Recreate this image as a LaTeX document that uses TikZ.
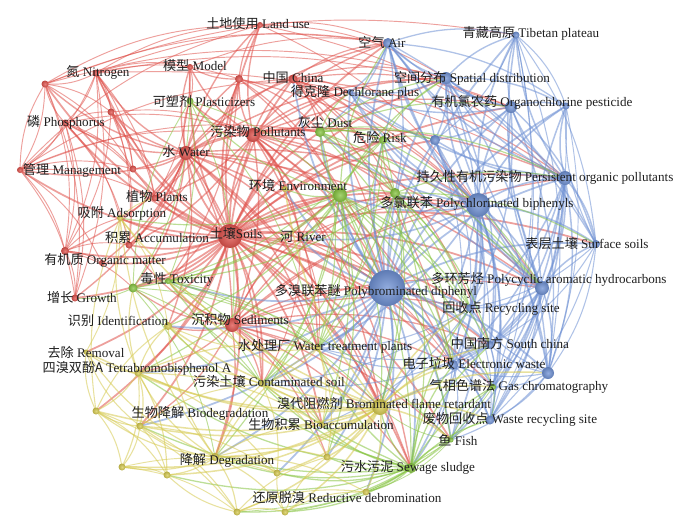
\documentclass[tikz,border=0pt]{standalone}
\usepackage{fontspec}
\setmainfont{Liberation Serif}
\newfontfamily\cjk{Noto Sans CJK SC}
\usepackage{tikz}
\usetikzlibrary{backgrounds}
\pgfdeclarelayer{edgelayer}
\pgfsetlayers{background,edgelayer,main}
\definecolor{cR}{HTML}{E0524C}
\definecolor{cG}{HTML}{86C440}
\definecolor{cB}{HTML}{6F91D4}
\definecolor{cY}{HTML}{D6CA50}
\newcommand{\zh}[1]{{\cjk #1}}
\tikzset{
  vnode/.style={circle,inner sep=0pt,draw=none},
  kwlabel/.style={inner sep=0pt,text=black!88,font=\fontsize{11.2}{13}\selectfont},
  link/.style={line width=#1,draw opacity=0.55},
}

\begin{document}
\begin{tikzpicture}[x=0.03cm,y=-0.03cm]
  \begin{pgfonlayer}{background}
    \fill[white] (0,0) rectangle (686,523);
  \end{pgfonlayer}
  \useasboundingbox (0,0) rectangle (686,523);

  % keyword circles
  \foreach \n/\x/\y/\r/\c in {
    landuse/260/25/3/cR, model/190/67/3/cR, nitro/96/73/3.5/cR, rA/45/84/3.5/cR,
    rB/111/112/3.5/cR, phos/65/123/3.5/cR, rC/239/79/4/cR, china/293/79/4.5/cR,
    poll/253/135/7/cR, water/186/153/7/cR, manage/20/170/3/cR, rD/133/169/3.5/cR,
    plants/155/198/3.5/cR, accum/129/245/3.5/cR, soil/230/236/12/cR, orgm/65/251/4/cR,
    rE/102/263/3/cR, growth/75/298/3.5/cR, sed/232/325/7/cR, river/300/238/2.5/cR,
    plast/190/101/3.5/cG, dust/320/132/5/cG, risk/383/140/4/cG, env/340/195/7/cG,
    gF/395/193/5/cG, tox1/133/288/4.5/cG, tox/168/281/3/cG, fish/451/440/2.5/cG,
    sludge/411/468/5/cG, gc/493/387/3/cG,
    air/388/43/5/cB, tibet/516/35/3.5/cB, spatial/446/78/6/cB, ocp/511/107/6/cB,
    bS/566/106/3.5/cB, dech/350/92/3/cB, risknode/435/140/5/cB, pop/565/178/7/cB,
    pcb/478/205/12/cB, surf/596/244/4/cB, pah/542/288/7/cB, pbde/387/288/18/cB,
    recyc/470/308/4/cB, south/490/345/4/cB, ewaste/453/365/5/cB, bT/548/373/6/cB,
    waste/490/420/4.5/cB,
    envy/285/189/3/cY, adsorp/120/218/3/cY, ident/168/326/4/cY, wtp/318/348/3/cY,
    removal/86/352/2.5/cY, tbbpa/138/373/3.5/cY, contam/262/384/3/cY, bfr/380/407/8/cY,
    bioacc/322/425/3/cY, biodeg/140/426/3.5/cY, deg/215/457/4/cY, yA/96/411/3.5/cY,
    yB/122/467/3.5/cY, yC/167/475/3.5/cY, yD/237/512/3.5/cY, yE/285/512/3.5/cY,
    yF/277/473/3.5/cY, yG/327/457/3.5/cY, redeb/366/492/3.5/cY}
    \node[vnode,inner color=\c!75,outer color=\c!85!black,minimum size=\r*0.06cm] (\n) at (\x,\y) {};

  % co-occurrence links
  \begin{pgfonlayer}{edgelayer}
  \foreach \hub/\col/\w/\tgts in {
    soil/cR/1.5/{water,poll,sed,china,rC,plants,accum,orgm,rE,growth,manage,rD,phos,nitro,rA,rB,model,landuse,adsorp,tox1,tox,ident,pbde,pcb,pah,env,envy,dust,river,deg,tbbpa,biodeg,contam,bfr,sludge,wtp,removal,yA,air,spatial,surf,ewaste,risk,gF,bioacc,pop,ocp,recyc,south,gc,fish,dech,risknode},
    water/cR/1.2/{poll,sed,nitro,phos,rA,rB,manage,rD,plants,orgm,growth,accum,china,rC,model,landuse,plast,env,envy,pcb,pbde,river,adsorp,tox1,ident,dust,rE,pah,spatial,air,bfr,sludge,wtp,contam},
    poll/cR/1.2/{china,rC,sed,plants,dust,air,pcb,pbde,env,envy,tox,accum,model,river,pah,risk,spatial,gF,landuse,plast,pop,ocp,ewaste,dech,bfr,sludge,wtp},
    sed/cR/1.1/{river,pbde,pcb,pah,bfr,wtp,tbbpa,deg,ident,accum,contam,bioacc,sludge,ewaste,recyc,south,tox1,env,pop,gF,tox,biodeg,yG,fish},
    nitro/cR/0.8/{rA,rB,phos,manage,orgm,growth,rD,landuse,air,model,plants,accum,rC,pop,ocp},
    phos/cR/0.8/{rA,manage,orgm,growth,rD,accum,rB,plants,adsorp,poll},
    manage/cR/0.8/{orgm,growth,rA,rD,rE,plants,dust,poll,china,landuse},
    rA/cR/0.8/{orgm,growth,rB,manage,landuse,air,spatial,rD,tibet},
    rB/cR/0.8/{rD,plants,poll,accum,orgm},
    china/cR/1.0/{air,spatial,pcb,pbde,dust,ewaste,rC,risk,ocp,gF,dech,pop,pah,south},
    rC/cR/1.0/{model,plants,accum,dust,env,tox,landuse,pcb,pbde},
    landuse/cR/0.8/{air,pcb,spatial,pop},
    model/cR/0.8/{air,plast,plants},
    orgm/cR/0.8/{growth,rE,accum,tox1,adsorp},
    river/cR/0.8/{pbde,pcb,env,gF,wtp,contam,ewaste},
    pbde/cB/1.5/{pcb,pop,pah,ocp,spatial,air,surf,bS,risknode,ewaste,recyc,south,bT,waste,gc,tibet,dust,bfr,sludge,env,gF,wtp,fish,deg,contam,bioacc,tbbpa,redeb,yG,risk,china,river,tox,dech,envy,ident,biodeg,yF},
    pcb/cB/1.4/{pop,pah,ocp,spatial,air,surf,bS,tibet,risknode,ewaste,recyc,south,bT,waste,gc,dust,gF,risk,bfr,sludge,fish,dech,env,river,wtp},
    pop/cB/1.3/{pah,ocp,spatial,air,surf,bS,tibet,risknode,bT,south,recyc,ewaste,waste,dech,gc,fish},
    pah/cB/1.3/{ocp,spatial,air,surf,bS,tibet,risknode,bT,south,recyc,ewaste,waste,gc,dech,fish,bfr},
    ocp/cB/1.2/{spatial,air,surf,bS,tibet,risknode,bT,dech,recyc},
    spatial/cB/1.2/{air,tibet,surf,risknode,bT,south,dech,recyc,bS},
    air/cB/1.1/{tibet,risknode,surf,dust,risk,gF,dech,bS,bT},
    tibet/cB/0.9/{surf,bS,bT,waste,gc,risknode},
    surf/cB/0.9/{bS,bT,south,recyc,waste},
    bS/cB/0.8/{bT,waste},
    bT/cB/1.0/{ewaste,recyc,south,waste,gc,fish},
    ewaste/cB/1.0/{recyc,south,waste,gc,fish,sludge,wtp},
    recyc/cB/0.9/{south,waste,wtp,contam,bioacc},
    south/cB/0.9/{waste,gc,wtp,contam},
    risknode/cB/0.9/{dech,recyc,south,ewaste},
    env/cG/1.0/{dust,risk,gF,tox,tox1,sludge,bfr,wtp,fish,gc,plast,contam,bioacc,deg,river,yG,envy,ewaste,south,recyc,tbbpa,ident,adsorp,spatial,air},
    sludge/cG/1.1/{bfr,fish,gc,wtp,contam,bioacc,deg,yG,redeb,yF,yE,waste,ewaste,tox,biodeg,recyc,south,tbbpa,ident,yD,yC},
    dust/cG/1.0/{risk,gF,risknode,spatial,ocp,pop,dech,pah,ewaste,recyc,wtp},
    gF/cG/1.0/{risk,pop,pah,surf,south,bfr,sludge,ewaste,recyc,wtp,contam,tox},
    risk/cG/0.9/{risknode,spatial,pah,bfr,wtp,tox,contam},
    tox1/cG/0.8/{tox,ident,growth,wtp,deg,plast,contam},
    tox/cG/0.8/{wtp,contam,bfr,bioacc,fish},
    plast/cG/0.8/{tox,env,wtp,sed,tox1},
    fish/cG/0.7/{gc,waste,bfr,yD,redeb,yE},
    gc/cG/0.7/{waste,redeb},
    bfr/cY/1.3/{tbbpa,deg,biodeg,bioacc,contam,wtp,redeb,yA,yB,yC,yD,yE,yF,yG,removal,ident,adsorp,tox,waste,gc,fish,envy,ewaste,south,recyc,bT},
    deg/cY/1.0/{tbbpa,biodeg,yA,yB,yC,yD,yE,yF,yG,redeb,removal,ident,contam,bioacc,adsorp,wtp},
    tbbpa/cY/1.0/{biodeg,yA,yB,yC,removal,ident,adsorp,contam,wtp,tox1,yF,bioacc},
    biodeg/cY/0.9/{yA,yB,yC,yD,removal,yF,contam},
    yA/cY/0.9/{yB,yC,removal,ident,adsorp,yD},
    yB/cY/0.8/{yC,yD,yF},
    yD/cY/0.9/{yE,yC,redeb,yG},
    yE/cY/0.9/{yG,redeb,yF},
    wtp/cY/0.9/{contam,bioacc,yG,ident},
    contam/cY/0.9/{bioacc,yG,yF,ident},
    adsorp/cY/0.8/{ident,accum,removal,plants}}
    \foreach \t in \tgts
      \draw[\col,link=\w pt] (\hub.center) to[bend left=15] (\t.center);
  \end{pgfonlayer}

  % keyword labels
  \foreach \n/\x/\y/\txt in {
    landuse/258/24/{\zh{土地使用} Land use}, model/195/66/{\zh{模型} Model},
    nitro/98/72/{\zh{氮} Nitrogen}, phos/66/122/{\zh{磷} Phosphorus},
    plast/204/101/{\zh{可塑剂} Plasticizers}, china/293/78/{\zh{中国} China},
    dech/355/92/{\zh{得克隆} Dechlorane plus}, poll/258/132/{\zh{污染物} Pollutants},
    dust/325/122/{\zh{灰尘} Dust}, risk/380/137/{\zh{危险} Risk},
    water/186/152/{\zh{水} Water}, air/382/42/{\zh{空气} Air},
    tibet/531/33/{\zh{青藏高原} Tibetan plateau}, spatial/472/78/{\zh{空间分布} Spatial distribution},
    ocp/532/102/{\zh{有机氯农药} Organochlorine pesticide}, manage/72/170/{\zh{管理} Management},
    plants/157/196/{\zh{植物} Plants}, env/298/185/{\zh{环境} Environment},
    pop/545/177/{\zh{持久性有机污染物} Persistent organic pollutants}, adsorp/122/213/{\zh{吸附} Adsorption},
    pcb/477/203/{\zh{多氯联苯} Polychlorinated biphenyls}, soil/236/233/{\zh{土壤}Soils},
    river/303/237/{\zh{河} River}, accum/157/238/{\zh{积累} Accumulation},
    surf/587/244/{\zh{表层土壤} Surface soils}, orgm/105/260/{\zh{有机质} Organic matter},
    tox/177/279/{\zh{毒性} Toxicity}, pah/549/279/{\zh{多环芳烃} Polycyclic aromatic hydrocarbons},
    pbde/376/291/{\zh{多溴联苯醚} Polybrominated diphenyl}, growth/82/297/{\zh{增长} Growth},
    recyc/501/308/{\zh{回收点} Recycling site}, ident/118/321/{\zh{识别} Identification},
    sed/240/320/{\zh{沉积物} Sediments}, south/510/343/{\zh{中国南方} South china},
    wtp/325/346/{\zh{水处理厂} Water treatment plants}, removal/86/352/{\zh{去除} Removal},
    ewaste/474/363/{\zh{电子垃圾} Electronic waste}, tbbpa/137/368/{\zh{四溴双酚A} Tetrabromobisphenol A},
    contam/269/381/{\zh{污染土壤} Contaminated soil}, gc/519/386/{\zh{气相色谱法} Gas chromatography},
    bfr/384/403/{\zh{溴代阻燃剂} Brominated flame retardant}, biodeg/200/413/{\zh{生物降解} Biodegradation},
    waste/510/419/{\zh{废物回收点} Waste recycling site}, bioacc/321/425/{\zh{生物积累} Bioaccumulation},
    fish/458/440/{\zh{鱼} Fish}, deg/227/460/{\zh{降解} Degradation},
    sludge/408/467/{\zh{污水污泥} Sewage sludge}, redeb/347/498/{\zh{还原脱溴} Reductive debromination}}
    \node[kwlabel] (l-\n) at (\x,\y) {\txt};
\end{tikzpicture}
\end{document}
